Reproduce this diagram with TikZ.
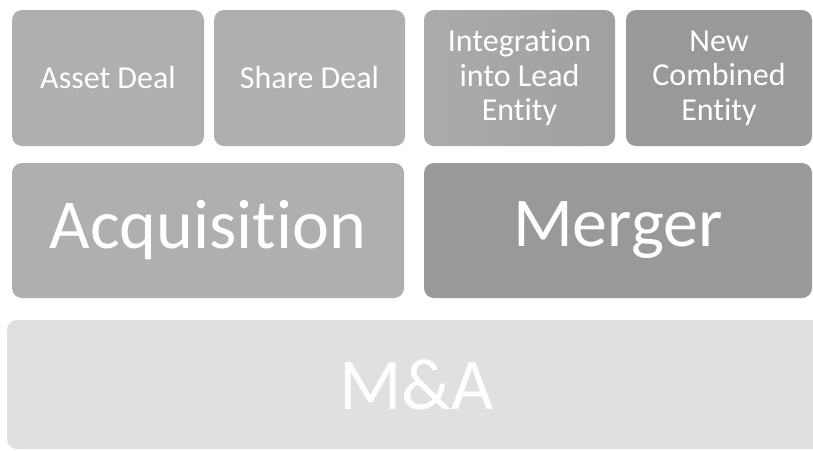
\documentclass[tikz,border=0pt]{standalone}
\usepackage{fontspec}
\setmainfont[RawFeature={-liga;-clig}]{Carlito}
\definecolor{boxA}{HTML}{AFAFAF}
\definecolor{boxB}{HTML}{999999}
\definecolor{boxC}{HTML}{E0E0E0}
\definecolor{gradEdgeL}{HTML}{ABABAB}
\definecolor{gradMid}{HTML}{E6E6E6}
\definecolor{gradEdgeR}{HTML}{A0A0A0}
\begin{document}
\begin{tikzpicture}[x=1pt,y=-1pt,
  blk/.style={rounded corners=10pt, inner sep=0pt, text=white, align=center, draw=none},
  small/.style={blk, font=\fontsize{32}{34.5}\selectfont},
  big/.style={blk, font=\fontsize{70}{76}\selectfont},
  huge/.style={blk, font=\fontsize{73}{80}\selectfont}]
\useasboundingbox (0,0) rectangle (813,450);
\fill[white] (0,0) rectangle (813,450);
% top row
\node[small, fill=boxA, minimum width=192pt, minimum height=136pt] (asset) at (108,78) {Asset Deal};
\node[small, fill=boxA, minimum width=191pt, minimum height=136pt] (share) at (309.5,78) {Share Deal};
\node[small, left color=gradEdgeL, middle color=gradMid, right color=gradEdgeR, minimum width=191pt, minimum height=136pt] (integ) at (519.5,78) {Integration\\into Lead\\Entity};
\node[small, fill=boxB, minimum width=186pt, minimum height=136pt] (newc) at (719,78) {New\\Combined\\Entity};
% middle row
\node[big, fill=boxA, minimum width=392pt, minimum height=135pt] (acq) at (208,230.5) {Acquisition};
\node[big, fill=boxB, minimum width=388pt, minimum height=135pt] (merger) at (618,230.5) {Merger};
% bottom
\node[huge, fill=boxC, minimum width=819pt, minimum height=129pt] (ma) at (416.5,384.5) {M\&A};
\end{tikzpicture}
\end{document}
